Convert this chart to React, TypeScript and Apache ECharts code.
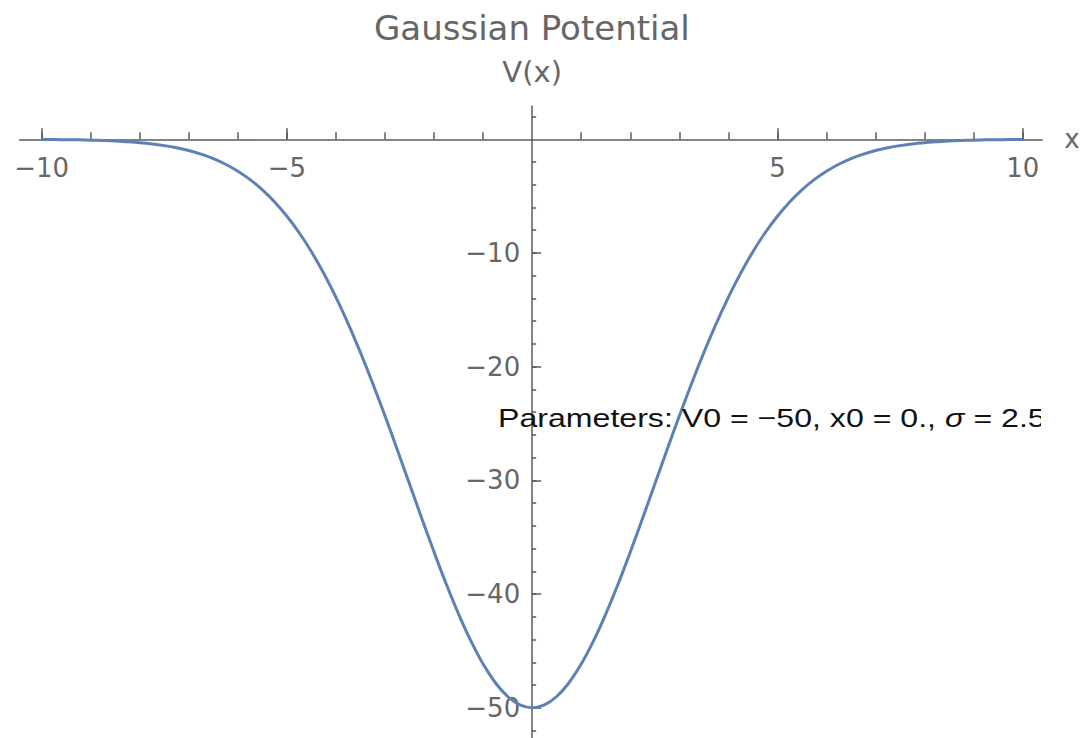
import React, { useEffect, useRef } from "react";
import * as echarts from "echarts";

// Data
const X_VALUES = [
  -10, -9.75, -9.5, -9.25, -9, -8.75, -8.5, -8.25, -8, -7.75, -7.5, -7.25, -7, -6.75, -6.5, -6.25, -6,
  -5.75, -5.5, -5.25, -5, -4.75, -4.5, -4.25, -4, -3.75, -3.5, -3.25, -3, -2.75, -2.5, -2.25, -2, -1.75,
  -1.5, -1.25, -1, -0.75, -0.5, -0.25, 0, 0.25, 0.5, 0.75, 1, 1.25, 1.5, 1.75, 2, 2.25, 2.5, 2.75, 3,
  3.25, 3.5, 3.75, 4, 4.25, 4.5, 4.75, 5, 5.25, 5.5, 5.75, 6, 6.25, 6.5, 6.75, 7, 7.25, 7.5, 7.75, 8,
  8.25, 8.5, 8.75, 9, 9.25, 9.5, 9.75, 10,
];
const V_VALUES = [
  -0.02, -0.02, -0.04, -0.05, -0.08, -0.11, -0.15, -0.22, -0.3, -0.41, -0.56, -0.75, -0.99, -1.31, -1.7,
  -2.2, -2.81, -3.55, -4.45, -5.51, -6.77, -8.22, -9.89, -11.79, -13.9, -16.23, -18.77, -21.48, -24.34,
  -27.3, -30.33, -33.35, -36.31, -39.14, -41.76, -44.12, -46.16, -47.8, -49.01, -49.75, -50, -49.75,
  -49.01, -47.8, -46.16, -44.12, -41.76, -39.14, -36.31, -33.35, -30.33, -27.3, -24.34, -21.48, -18.77,
  -16.23, -13.9, -11.79, -9.89, -8.22, -6.77, -5.51, -4.45, -3.55, -2.81, -2.2, -1.7, -1.31, -0.99,
  -0.75, -0.56, -0.41, -0.3, -0.22, -0.15, -0.11, -0.08, -0.05, -0.04, -0.02, -0.02,
];
const X_MINOR_TICKS = [-10, -9, -8, -7, -6, -5, -4, -3, -2, -1, 1, 2, 3, 4, 5, 6, 7, 8, 9, 10];
const X_MAJOR_TICKS = [-10, -5, 5, 10];
const X_TICK_LABELS = [-10, -5, 5, 10];
const Y_MINOR_TICKS = [-52, -50, -48, -46, -44, -42, -40, -38, -36, -34, -32, -30, -28, -26, -24, -22, -20, -18, -16, -14, -12, -10, -8, -6, -4, -2, 2];
const Y_MAJOR_TICKS = [-50, -40, -30, -20, -10];
const Y_TICK_LABELS = [-50, -40, -30, -20, -10];

const TITLE = "Gaussian Potential";
const Y_NAME = "V(x)";
const X_NAME = "x";
const PARAMS = "Parameters: V0 = \u221250, x0 = 0., {i|\u03c3} = 2.5";

const FONT = "DejaVu Sans";
const GRAY = "#666666";
const AXIS = "#5a5a5a";

const fmt = (v: number) => String(v).replace("-", "\u2212");

export default function App() {
  const ref = useRef<HTMLDivElement>(null);
  useEffect(() => {
    document.body.style.margin = "0";
    if (!ref.current) return;
    const chart = echarts.init(ref.current, undefined, { renderer: "svg" });
    const W = 1083;
    const H = 738;
    const xMin = -10.45;
    const xMax = 10.4;
    const yMin = -52.66;
    const yMax = 2.9;
    const gLeft = 19.6;
    const gRight = 40.7;
    const gTop = 106.3;
    const gBottom = 0;
    const gW = W - gLeft - gRight;
    const gH = H - gTop - gBottom;
    const zeroY = gTop + (yMax / (yMax - yMin)) * gH;
    const zeroX = gLeft + (-xMin / (xMax - xMin)) * gW;
    const xOffset = -(H - gBottom - zeroY);
    const yOffset = -(zeroX - gLeft);

    const xBase = {
      type: "value",
      min: xMin,
      max: xMax,
      position: "bottom",
      offset: xOffset,
      splitLine: { show: false },
    };
    const yBase = {
      type: "value",
      min: yMin,
      max: yMax,
      position: "left",
      offset: yOffset,
      splitLine: { show: false },
    };
    const option: any = {
      animation: false,
      backgroundColor: "#ffffff",
      title: {
        text: TITLE,
        left: 369,
        top: 6,
        textStyle: { fontFamily: FONT, fontSize: 34, fontWeight: "normal", color: GRAY },
      },
      grid: {
        left: gLeft,
        right: gRight,
        top: gTop,
        bottom: gBottom,
        containLabel: false,
        outerBoundsMode: "none",
      },
      xAxis: [
        {
          ...xBase,
          name: X_NAME,
          nameLocation: "end",
          nameGap: 22,
          nameTextStyle: { fontFamily: FONT, fontSize: 26, color: GRAY, verticalAlign: "middle" },
          axisLine: { show: true, onZero: false, lineStyle: { color: AXIS, width: 1.5 } },
          axisTick: { show: true, inside: true, length: 7, customValues: X_MINOR_TICKS, lineStyle: { color: AXIS, width: 1.5 } },
          axisLabel: {
            show: true,
            customValues: X_TICK_LABELS,
            margin: 16,
            fontFamily: FONT,
            fontSize: 26,
            color: GRAY,
            formatter: fmt,
          },
        },
        {
          ...xBase,
          axisLine: { show: false, onZero: false },
          axisTick: { show: true, inside: true, length: 11, customValues: X_MAJOR_TICKS, lineStyle: { color: AXIS, width: 1.5 } },
          axisLabel: { show: false },
        },
      ],
      yAxis: [
        {
          ...yBase,
          name: Y_NAME,
          nameLocation: "end",
          nameGap: 20,
          nameTextStyle: { fontFamily: FONT, fontSize: 29, color: GRAY, align: "center" },
          axisLine: { show: true, onZero: false, lineStyle: { color: AXIS, width: 1.5 } },
          axisTick: { show: true, inside: true, length: 4, customValues: Y_MINOR_TICKS, lineStyle: { color: AXIS, width: 1.5 } },
          axisLabel: {
            show: true,
            customValues: Y_TICK_LABELS,
            margin: 12,
            fontFamily: FONT,
            fontSize: 26,
            color: GRAY,
            formatter: fmt,
          },
        },
        {
          ...yBase,
          axisLine: { show: false, onZero: false },
          axisTick: { show: true, inside: true, length: 9, customValues: Y_MAJOR_TICKS, lineStyle: { color: AXIS, width: 1.5 } },
          axisLabel: { show: false },
        },
      ],
      series: [
        {
          type: "line",
          xAxisIndex: 0,
          yAxisIndex: 0,
          data: X_VALUES.map((x, i) => [x, V_VALUES[i]]),
          smooth: 0.3,
          symbol: "none",
          lineStyle: { color: "#5E81B5", width: 3 },
          z: 3,
        },
      ],
      graphic: [
        {
          type: "text",
          x: 498,
          y: 418,
          scaleX: 1.235,
          z: 10,
          style: {
            text: PARAMS,
            fontFamily: "Liberation Sans",
            fontSize: 26,
            fill: "#111111",
            verticalAlign: "middle",
            rich: {
              i: { fontFamily: "Liberation Sans", fontSize: 26, fontStyle: "italic", fill: "#111111" },
            },
          },
        },
        {
          type: "rect",
          z: 11,
          shape: { x: 1041, y: 398, width: 42, height: 40 },
          style: { fill: "#ffffff" },
        },
      ],
    };
    chart.setOption(option);
    return () => chart.dispose();
  }, []);
  return <div ref={ref} style={{ width: 1083, height: 738 }} />;
}
